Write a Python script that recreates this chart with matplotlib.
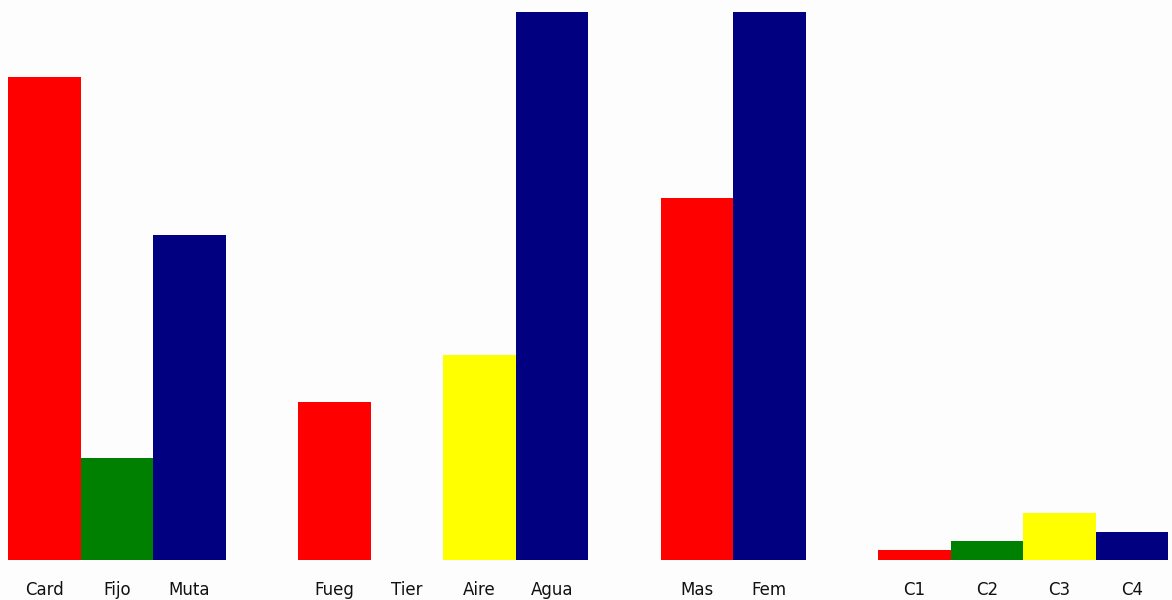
import matplotlib.pyplot as plt
import numpy as np

# etiquetas y valores (porcentajes) por grupo
labels_modo = ['Card', 'Fijo', 'Muta']
vals_modo = [53.1, 11.2, 35.7]
labels_elem = ['Fueg', 'Tier', 'Aire', 'Agua']
vals_elem = [17.4, 0.0, 22.5, 60.2]
labels_pol = ['Mas', 'Fem']
vals_pol = [39.8, 60.2]
labels_cuad = ['C1', 'C2', 'C3', 'C4']
vals_cuad = [1.1, 2.1, 5.2, 3.1]

red, green, navy, yellow = '#ff0000', '#008000', '#000080', '#ffff00'
groups = [
    (labels_modo, vals_modo, [red, green, navy]),
    (labels_elem, vals_elem, [red, green, yellow, navy]),
    (labels_pol, vals_pol, [red, navy]),
    (labels_cuad, vals_cuad, [red, green, yellow, navy]),
]

fig = plt.figure(figsize=(11.72, 6), dpi=100)
fig.patch.set_facecolor('#fdfdfd')
ax = fig.add_axes([8 / 1172, 40 / 600, 1160 / 1172, 548 / 600])
ax.set_facecolor('#fdfdfd')

pos = 0
xs, xl = [], []
for labs, vals, cols in groups:
    x = np.arange(len(labs)) + pos
    ax.bar(x, vals, width=1.0, color=cols, align='edge')
    xs += list(x + 0.5)
    xl += labs
    pos += len(labs) + 1

ax.set_xlim(0, 16)
ax.set_ylim(0, 60.2)
ax.set_xticks(xs)
ax.set_xticklabels(xl, fontsize=12, color='#111111')
ax.tick_params(axis='x', length=0, pad=15)
ax.set_yticks([])
for s in ax.spines.values():
    s.set_visible(False)

fig.savefig('out.png', dpi=100, facecolor=fig.get_facecolor())
